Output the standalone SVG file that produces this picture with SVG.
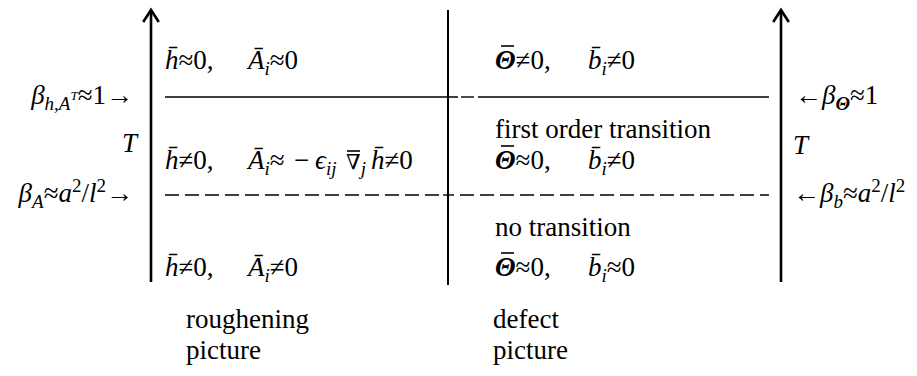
<svg xmlns="http://www.w3.org/2000/svg" width="917" height="376" viewBox="0 0 917 376">
<defs>
<marker id="ah" markerUnits="userSpaceOnUse" markerWidth="24" markerHeight="24" refX="0" refY="0" viewBox="-12 -10 14 20" orient="auto" overflow="visible">
<path d="M-10,-6.5 L0,0 L-10,6.5" fill="none" stroke="#000" stroke-width="2.2"/>
</marker>
</defs>
<style>
text{font-family:"Liberation Serif","DejaVu Serif",serif;font-size:27px;fill:#000}
.i{font-style:italic}
.b{font-weight:bold;font-style:italic}
.s{font-size:19px}
.ss{font-size:13px}
.nb{font-size:21px}
.bar{stroke:#000;stroke-width:1.6}
.axis{stroke:#000;stroke-width:2.6;fill:none}
.mid{stroke:#000;stroke-width:2;fill:none}
.solid{stroke:#000;stroke-width:1.4;fill:none}
.dash{stroke:#000;stroke-width:1.4;fill:none;stroke-dasharray:14 6}
</style>
<rect width="917" height="376" fill="#fff"/>
<g id="connectors">
<line id="axis-left" class="axis" x1="151" y1="282" x2="151" y2="10" marker-end="url(#ah)"/>
<line id="axis-right" class="axis" x1="781" y1="282" x2="781" y2="10" marker-end="url(#ah)"/>
<line id="divider" class="mid" x1="448" y1="10" x2="448" y2="285"/>
<g id="line-solid">
<line class="solid" x1="165" y1="97" x2="458" y2="97"/>
<line class="solid" x1="461" y1="97" x2="474" y2="97"/>
<line class="solid" x1="478" y1="97" x2="769" y2="97"/>
</g>
<g id="line-dashed">
<line class="dash" x1="165" y1="195" x2="445" y2="195"/>
<line class="solid" x1="443" y1="195" x2="454" y2="195"/>
<line class="dash" x1="460" y1="195" x2="769" y2="195"/>
</g>
</g>
<g id="left-labels">
<text x="133" y="104" text-anchor="end"><tspan class="i">β</tspan><tspan class="i s" dy="6">h,A</tspan><tspan class="i ss" dy="-10">T</tspan><tspan dy="4">≈1→</tspan></text>
<text x="137" y="152" text-anchor="end" class="i">T</text>
<text x="133" y="202" text-anchor="end"><tspan class="i">β</tspan><tspan class="i s" dy="6">A</tspan><tspan dy="-6">≈</tspan><tspan class="i">a</tspan><tspan class="s" dy="-10">2</tspan><tspan dy="10">/</tspan><tspan class="i">l</tspan><tspan class="s" dy="-10">2</tspan><tspan dy="10">→</tspan></text>
</g>
<g id="right-labels">
<text x="795" y="104"><tspan>←</tspan><tspan class="i">β</tspan><tspan class="b s" dy="6">Θ</tspan><tspan dy="-6">≈1</tspan></text>
<text x="793" y="154" class="i">T</text>
<text x="793" y="202"><tspan>←</tspan><tspan class="i">β</tspan><tspan class="i s" dy="6">b</tspan><tspan dy="-6">≈</tspan><tspan class="i">a</tspan><tspan class="s" dy="-10">2</tspan><tspan dy="10">/</tspan><tspan class="i">l</tspan><tspan class="s" dy="-10">2</tspan></text>
</g>
<g id="roughening-high">
<text x="165" y="69"><tspan class="i">h̄</tspan>≈0,<tspan x="248" class="i">Ā</tspan><tspan class="i s" dy="6">i</tspan><tspan dy="-6">≈0</tspan></text>
</g>
<g id="roughening-mid">
<text x="165" y="169"><tspan class="i">h̄</tspan>≠0,<tspan x="248" class="i">Ā</tspan><tspan class="i s" dy="6">i</tspan><tspan dy="-6">≈</tspan><tspan x="294">−</tspan><tspan x="315" class="i">ϵ</tspan><tspan class="i s" dy="6">ij</tspan><tspan x="346" class="nb" dy="-6">∇</tspan><tspan class="i s" dy="6">j</tspan><tspan x="371" class="i" dy="-6">h̄</tspan><tspan>≠0</tspan></text>
</g>
<g id="roughening-low">
<text x="165" y="276"><tspan class="i">h̄</tspan>≠0,<tspan x="248" class="i">Ā</tspan><tspan class="i s" dy="6">i</tspan><tspan dy="-6">≠0</tspan></text>
</g>
<g id="defect-high">
<text x="495" y="69"><tspan class="b">Θ</tspan>≠0,<tspan x="588" class="i">b̄</tspan><tspan class="i s" dy="6">i</tspan><tspan dy="-6">≠0</tspan></text>
</g>
<g id="defect-mid">
<text x="495" y="138">first order transition</text>
<text x="495" y="169"><tspan class="b">Θ</tspan>≈0,<tspan x="588" class="i">b̄</tspan><tspan class="i s" dy="6">i</tspan><tspan dy="-6">≠0</tspan></text>
</g>
<g id="defect-low">
<text x="495" y="236">no transition</text>
<text x="495" y="276"><tspan class="b">Θ</tspan>≈0,<tspan x="588" class="i">b̄</tspan><tspan class="i s" dy="6">i</tspan><tspan dy="-6">≈0</tspan></text>
</g>
<g id="overbars">
<line class="bar" x1="501" y1="46" x2="514" y2="46"/>
<line class="bar" x1="501" y1="146" x2="514" y2="146"/>
<line class="bar" x1="501" y1="253" x2="514" y2="253"/>
<line class="bar" x1="347" y1="151" x2="360" y2="151"/>
</g>
<g id="captions">
<text x="186" y="328">roughening</text>
<text x="186" y="359">picture</text>
<text x="493" y="328">defect</text>
<text x="493" y="359">picture</text>
</g>
</svg>
